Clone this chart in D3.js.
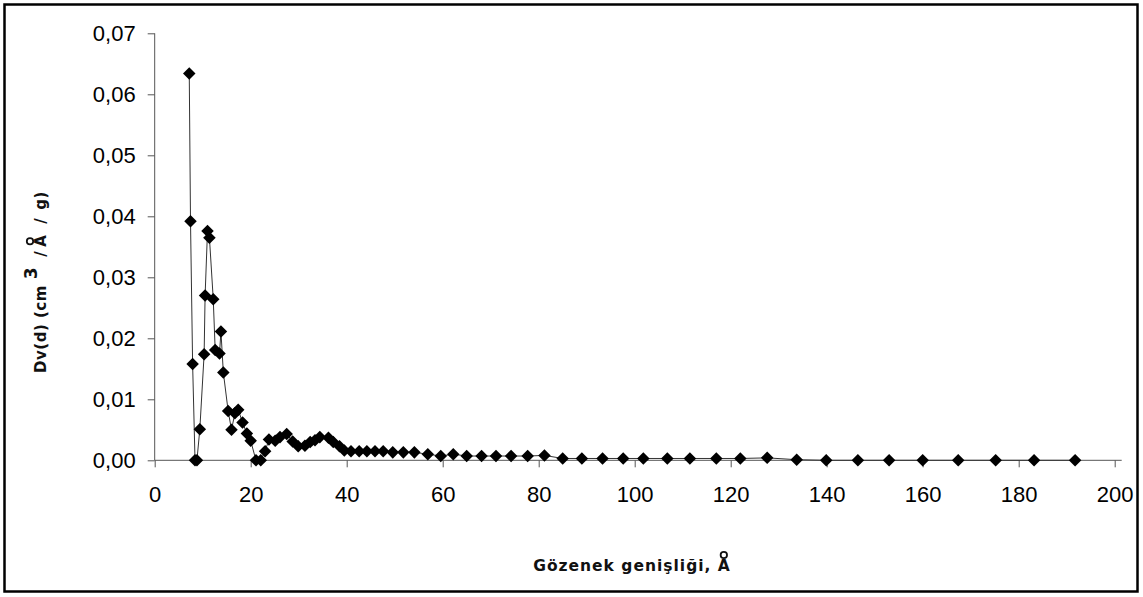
<!DOCTYPE html>
<html>
<head>
<meta charset="utf-8">
<script src="https://cdn.jsdelivr.net/npm/d3@7"></script>
<style>
  body { margin: 0; background: #fff; }
  svg { display: block; }
</style>
</head>
<body>
<div id="chart"></div>
<script>
// pore width (A) and Dv(d) values
var poreWidth = [7.2, 7.46, 7.9, 8.4, 8.8, 9.4, 10.3, 10.5, 11.0, 11.4, 12.2, 12.6, 13.5, 13.8, 14.3, 15.3, 16.0, 16.7, 17.4, 18.3,
  19.2, 20.0, 21.1, 22.1, 23.0, 23.8, 25.1, 26.1, 27.5, 28.75, 29.9, 31.3, 32.4, 33.4, 34.4, 36.2, 37.2, 38.5, 39.5, 40.9,
  42.6, 44.2, 45.9, 47.6, 49.6, 51.8, 54.1, 56.9, 59.6, 62.2, 65.0, 68.1, 71.1, 74.25, 77.7, 81.2, 85.0, 89.0, 93.3, 97.6,
  101.8, 106.8, 111.5, 117.0, 122.0, 127.6, 133.75, 139.9, 146.5, 153.0, 160.0, 167.4, 175.2, 183.2, 191.75]
var dvd = [0.0634, 0.0392, 0.0158, 0, 0, 0.0051, 0.0174, 0.0270, 0.0376, 0.0365, 0.0264, 0.0181, 0.0175, 0.0211, 0.0144, 0.0081, 0.0050, 0.0077, 0.0083, 0.0062,
  0.0044, 0.0032, 0, 0, 0.0015, 0.0034, 0.0032, 0.0038, 0.0043, 0.0031, 0.0023, 0.0024, 0.0030, 0.0033, 0.0038, 0.0037, 0.0030, 0.0023, 0.0016, 0.0015,
  0.0015, 0.0015, 0.0015, 0.0015, 0.0013, 0.0013, 0.0013, 0.0010, 0.0007, 0.0010, 0.0007, 0.0007, 0.0007, 0.0007, 0.0007, 0.0008, 0.0003, 0.0003, 0.0003, 0.0003,
  0.0003, 0.0003, 0.0003, 0.0003, 0.0003, 0.0004, 0.0001, 0, 0, 0, 0, 0, 0, 0, 0]

var xTicks = [0, 20, 40, 60, 80, 100, 120, 140, 160, 180, 200]
var yTicks = [0, 0.01, 0.02, 0.03, 0.04, 0.05, 0.06, 0.07]

var width = 1143, height = 597

var svg = d3.select("#chart")
  .append("svg")
  .attr("width", width)
  .attr("height", height)

// outer frame
svg.append("rect")
  .attr("x", 4.5).attr("y", 4.5)
  .attr("width", 1133).attr("height", 587)
  .attr("fill", "none")
  .attr("stroke", "#000")
  .attr("stroke-width", 2.5)

var x = d3.scaleLinear().domain([0, 200]).range([154.7, 1114.7])
var y = d3.scaleLinear().domain([0, 0.07]).range([460.3, 33.3])

var fmt = function(d) { return d3.format(".2f")(d).replace(".", ",") }

// y axis
var gy = svg.append("g")
  .attr("transform", "translate(" + x(0) + ",0)")
  .call(d3.axisLeft(y).tickValues(yTicks).tickSize(7).tickPadding(12).tickFormat(fmt))
gy.select(".domain").remove()
gy.append("line")
  .attr("x1", 0).attr("x2", 0)
  .attr("y1", y(0.07)).attr("y2", y(0))
  .attr("stroke", "#555")

// x axis
var gx = svg.append("g")
  .attr("transform", "translate(0," + y(0) + ")")
  .call(d3.axisBottom(x).tickValues(xTicks).tickSize(7).tickPadding(19).tickFormat(d3.format("d")))
gx.select(".domain").remove()
gx.append("line")
  .attr("x1", x(0)).attr("x2", x.range()[1] + 7)
  .attr("y1", 0).attr("y2", 0)
  .attr("stroke", "#555")

svg.selectAll(".tick line").attr("stroke", "#555")
svg.selectAll(".tick text")
  .attr("fill", "#000")
  .style("font-family", "'Liberation Sans', Arial, sans-serif")
  .style("font-size", "22px")

// data
var data = poreWidth.map(function(d, i) { return {w: d, v: dvd[i]} })

var line = d3.line()
  .x(function(d) { return x(d.w) })
  .y(function(d) { return y(d.v) })

svg.append("path")
  .datum(data)
  .attr("d", line)
  .attr("fill", "none")
  .attr("stroke", "#333")
  .attr("stroke-width", 1)

svg.selectAll(".pt")
  .data(data)
  .enter()
  .append("path")
    .attr("class", "pt")
    .attr("transform", function(d) { return "translate(" + x(d.w) + "," + y(d.v) + ")" })
    .attr("d", d3.symbol(d3.symbolDiamond2, 100)())
    .attr("fill", "#000")

// small ring drawn above the character at index idx (the A of Angstrom)
function ringOver(textNode, idx, parent) {
  var box = textNode.getExtentOfChar(idx)
  parent.append("circle")
    .attr("cx", box.x + box.width / 2 - 0.5)
    .attr("cy", box.y - 2)
    .attr("r", 3.2)
    .attr("fill", "none")
    .attr("stroke", "#111")
    .attr("stroke-width", 1.8)
}

// x axis title
var xLabel = "Gözenek genişliği, A"
var xTitle = svg.append("text")
  .attr("x", 632)
  .attr("y", 571)
  .attr("text-anchor", "middle")
  .style("font-family", "'DejaVu Sans', Verdana, sans-serif")
  .style("font-weight", "bold")
  .style("font-size", "15.5px")
  .style("letter-spacing", "1px")
  .attr("fill", "#111")
  .text(xLabel)
ringOver(xTitle.node(), xLabel.length - 1, svg)

// y axis title
var gTitle = svg.append("g")
  .attr("transform", "translate(46,282) rotate(-90)")
var yTitle = gTitle.append("text")
  .attr("text-anchor", "middle")
  .style("font-family", "'DejaVu Sans', Verdana, sans-serif")
  .style("font-weight", "bold")
  .style("font-size", "15px")
  .style("letter-spacing", "0.5px")
  .attr("fill", "#111")
yTitle.append("tspan").text("Dv(d) (cm")
yTitle.append("tspan").attr("dx", 6).attr("dy", -9).style("font-size", "17px").text("3")
yTitle.append("tspan").attr("dx", 10).attr("dy", 9).text("/")
yTitle.append("tspan").attr("dx", 4).text("A")
yTitle.append("tspan").attr("dx", 11).text("/")
yTitle.append("tspan").attr("dx", 8).text("g)")
ringOver(yTitle.node(), "Dv(d) (cm3/".length, gTitle)
</script>
</body>
</html>
